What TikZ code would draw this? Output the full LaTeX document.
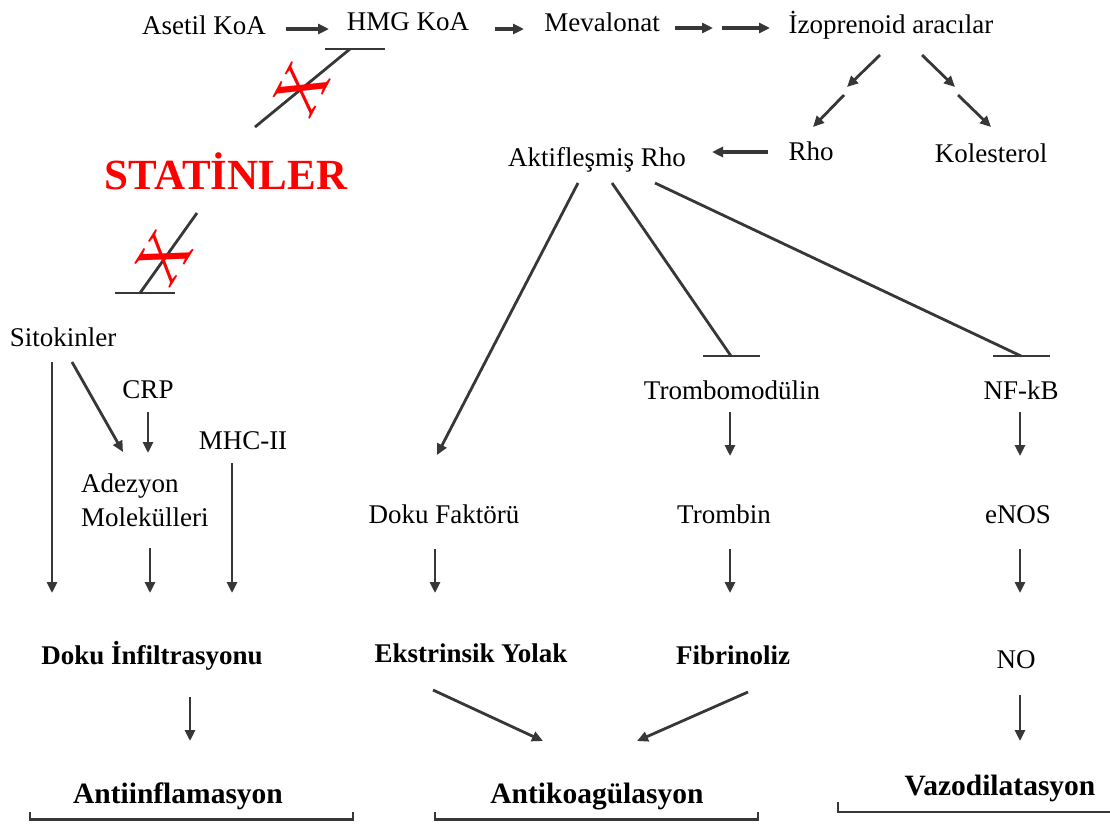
\documentclass[tikz,border=0pt]{standalone}
\usepackage{fontspec}
\setmainfont{Liberation Serif}
\usetikzlibrary{arrows.meta}
\definecolor{lc}{RGB}{55,55,55}
\begin{document}
\begin{tikzpicture}[x=1pt,y=-1pt,
  lbl/.style={font=\fontsize{27}{34}\selectfont, inner sep=0pt, anchor=base},
  blbl/.style={lbl, font=\fontsize{27}{34}\selectfont\bfseries},
  big/.style={lbl, font=\fontsize{29.5}{34}\selectfont\bfseries},
  arr/.style={draw=lc, line width=2.8pt, -{Triangle[length=11pt,width=10pt]}},
  inh/.style={draw=lc, line width=2.8pt, line cap=butt},
  cross/.style={text=red, font=\fontsize{66}{66}\selectfont, inner sep=0pt},
  brk/.style={draw=lc, line width=2.4pt}
]
\useasboundingbox (0,0) rectangle (1110,823);

% ---------- nodes ----------
\node[lbl] (asetil) at (204,34) {Asetil KoA};
\node[lbl] (hmg) at (408,30) {HMG KoA};
\node[lbl] (meva) at (602,31) {Mevalonat};
\node[lbl] (izo) at (891,33) {İzoprenoid aracılar};
\node[lbl] (rho) at (811,160) {Rho};
\node[lbl] (kol) at (991,162) {Kolesterol};
\node[lbl] (akt) at (597,166) {Aktifleşmiş Rho};
\node[lbl, text=red, font=\fontsize{43}{46}\selectfont\bfseries] (stat) at (226,189) {STATİNLER};
\node[lbl] (sitok) at (63,346) {Sitokinler};
\node[lbl] (crp) at (148,398) {CRP};
\node[lbl] (mhc) at (243,449) {MHC-II};
\node[lbl, anchor=north west, align=left] (adez) at (81,474) {Adezyon\\Molekülleri};
\node[blbl] (dinf) at (152,664) {Doku İnfiltrasyonu};
\node[lbl] (dfak) at (444,523) {Doku Faktörü};
\node[lbl] (tmod) at (732,399) {Trombomodülin};
\node[lbl] (nfkb) at (1021,399) {NF-kB};
\node[lbl] (trom) at (724,523) {Trombin};
\node[lbl] (enos) at (1018,523) {eNOS};
\node[blbl] (ekst) at (471,662) {Ekstrinsik Yolak};
\node[blbl] (fibr) at (733,664) {Fibrinoliz};
\node[lbl] (no) at (1016,668) {NO};
\node[big] (ainf) at (178,803) {Antiinflamasyon};
\node[big] (akoa) at (597,803) {Antikoagülasyon};
\node[big] (vazo) at (1000,795) {Vazodilatasyon};

% ---------- connector end points ----------
\coordinate (ah1) at (286,29);  \coordinate (ah2) at (329,29);
\coordinate (hm1) at (495,29);  \coordinate (hm2) at (524,29);
\coordinate (mi1) at (675,28);  \coordinate (mi2) at (713,28);
\coordinate (mi3) at (722,28);  \coordinate (mi4) at (770,28);
\coordinate (ir1) at (880,55);  \coordinate (ir2) at (847,87);
\coordinate (ir3) at (844,95);  \coordinate (ir4) at (813,127);
\coordinate (ik1) at (922,55);  \coordinate (ik2) at (955,87);
\coordinate (ik3) at (958,95);  \coordinate (ik4) at (991,127);
\coordinate (ra1) at (768,152); \coordinate (ra2) at (712,152);
\coordinate (ad1) at (578,183); \coordinate (ad2) at (437,455);
\coordinate (at1) at (612,183); \coordinate (at2) at (731,356);
\coordinate (an1) at (655,183); \coordinate (an2) at (1021,356);
\coordinate (tt1) at (730,412); \coordinate (tt2) at (730,456);
\coordinate (ne1) at (1020,412); \coordinate (ne2) at (1020,456);
\coordinate (de1) at (435,549); \coordinate (de2) at (435,593);
\coordinate (tf1) at (730,549); \coordinate (tf2) at (730,593);
\coordinate (en1) at (1020,549); \coordinate (en2) at (1020,593);
\coordinate (ea1) at (433,690); \coordinate (ea2) at (543,741);
\coordinate (fa1) at (748,692); \coordinate (fa2) at (637,741);
\coordinate (di1) at (190,697); \coordinate (di2) at (190,741);
\coordinate (nv1) at (1020,695); \coordinate (nv2) at (1020,741);
\coordinate (sd1) at (52,362);  \coordinate (sd2) at (52,593);
\coordinate (sa1) at (72,362);  \coordinate (sa2) at (123,452);
\coordinate (ca1) at (148,412); \coordinate (ca2) at (148,453);
\coordinate (md1) at (232,463); \coordinate (md2) at (232,593);
\coordinate (ai1) at (150,548); \coordinate (ai2) at (150,593);
\coordinate (sh1) at (255,127); \coordinate (sh2) at (350,49);
\coordinate (ss1) at (197,213); \coordinate (ss2) at (140,293);

% ---------- arrows ----------
\draw[arr, line width=3.2pt] (ah1) -- (ah2);
\draw[arr, line width=3.2pt] (hm1) -- (hm2);
\draw[arr, line width=3.2pt] (mi1) -- (mi2);
\draw[arr, line width=3.2pt] (mi3) -- (mi4);
\draw[arr] (ir1) -- (ir2);
\draw[arr] (ir3) -- (ir4);
\draw[arr] (ik1) -- (ik2);
\draw[arr] (ik3) -- (ik4);
\draw[arr, line width=3.2pt] (ra1) -- (ra2);
\draw[arr] (ad1) -- (ad2);
\draw[arr] (tt1) -- (tt2);
\draw[arr] (ne1) -- (ne2);
\draw[arr] (de1) -- (de2);
\draw[arr] (tf1) -- (tf2);
\draw[arr] (en1) -- (en2);
\draw[arr] (ea1) -- (ea2);
\draw[arr] (fa1) -- (fa2);
\draw[arr] (di1) -- (di2);
\draw[arr] (nv1) -- (nv2);
\draw[arr] (sd1) -- (sd2);
\draw[arr] (sa1) -- (sa2);
\draw[arr] (ca1) -- (ca2);
\draw[arr] (md1) -- (md2);
\draw[arr] (ai1) -- (ai2);

% ---------- inhibitions ----------
\draw[inh] (at1) -- (at2);
\draw[inh] ([xshift=-28pt]at2) -- ([xshift=29pt]at2);
\draw[inh] (an1) -- (an2);
\draw[inh] ([xshift=-28pt]an2) -- ([xshift=29pt]an2);
\draw[inh] (sh1) -- (sh2);
\draw[inh] ([xshift=-25pt]sh2) -- ([xshift=35pt]sh2);
\draw[inh] (ss1) -- (ss2);
\draw[inh] ([xshift=-25pt]ss2) -- ([xshift=35pt]ss2);

% red crosses
\node[cross, rotate=62] (x1) at (302,89) {X};
\node[cross, rotate=58] (x2) at (164,258) {X};

% ---------- brackets ----------
\draw[brk] (30,812) -- (30,819.5) -- (353,819.5) -- (353,812);
\draw[brk] (435,812) -- (435,819.5) -- (758,819.5) -- (758,812);
\draw[brk] (838,802) -- (838,812) -- (1112,812);
\end{tikzpicture}
\end{document}
